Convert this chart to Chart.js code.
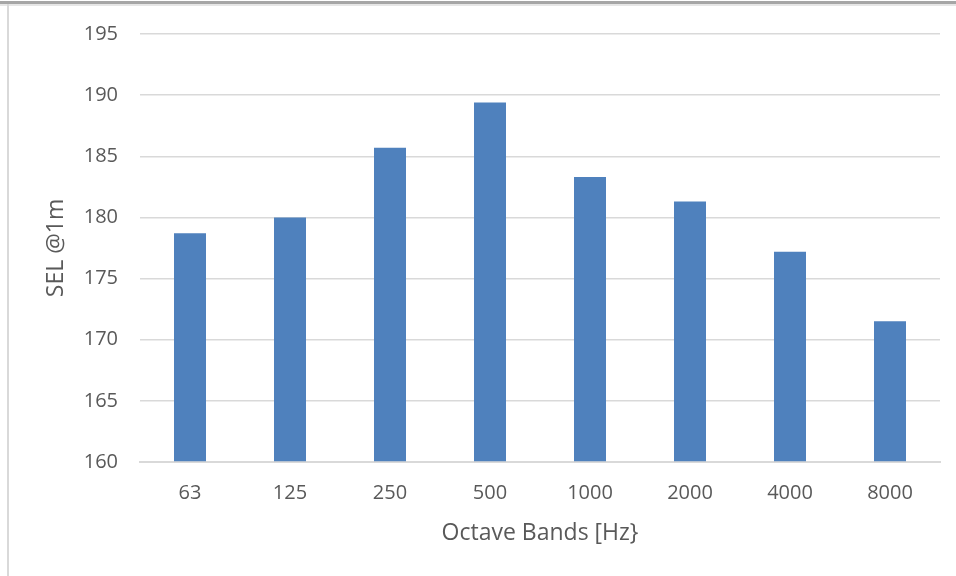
<!DOCTYPE html>
<html>
<head>
<meta charset="utf-8">
<script src="https://cdn.jsdelivr.net/npm/chart.js@4"></script>
<style>
  html, body { margin: 0; padding: 0; background: #fff; }
  #wrap { position: relative; width: 956px; height: 576px; overflow: hidden; }
  #frameTop { position: absolute; left: 0; top: 1px; width: 956px; height: 3px; background: #a6a6a6; }
  #frameTop2 { position: absolute; left: 0; top: 4px; width: 956px; height: 2px; background: #e6e6e6; }
  #frameLeft { position: absolute; left: 7px; top: 4px; width: 2px; height: 572px; background: #d9d9d9; }
  canvas { position: absolute; left: 0; top: 0; }
</style>
</head>
<body>
<div id="wrap">
  <canvas id="myChart" width="956" height="576"></canvas>
  <div id="frameTop"></div>
  <div id="frameTop2"></div>
  <div id="frameLeft"></div>
</div>
<script>
// octave band levels
const bands = ["63", "125", "250", "500", "1000", "2000", "4000", "8000"];
const sel = [178.7, 180.0, 185.7, 189.4, 183.3, 181.3, 177.2, 171.5];
const yMin = 160;
const yMax = 195;
const yStep = 5;

const textColor = "#595959";
const tickFont = { family: "'Open Sans', sans-serif", size: 20 };
const titleFont = { family: "'Open Sans', sans-serif", size: 23 };

const ctx = document.getElementById("myChart");
const myChart = new Chart(ctx, {
  type: "bar",
  data: {
    labels: bands,
    datasets: [
      {
        label: "SEL @1m",
        data: sel,
        backgroundColor: "#4f81bd",
        borderWidth: 0,
        barPercentage: 0.32,
        categoryPercentage: 1,
        base: yMin,
      },
    ],
  },
  options: {
    responsive: false,
    animation: false,
    layout: { padding: { left: 39, right: 16, top: 33, bottom: 0 } },
    plugins: { legend: { display: false }, tooltip: { enabled: false } },
    scales: {
      x: {
        grid: { display: false, drawTicks: false },
        border: { display: true, color: "#d9d9d9", width: 2 },
        ticks: { color: textColor, font: tickFont, padding: 19 },
        title: {
          display: true,
          text: "Octave Bands [Hz}",
          color: textColor,
          font: titleFont,
          padding: { top: 4, bottom: 29 },
        },
        afterFit: (scale) => { scale.height = 114; },
      },
      y: {
        min: yMin,
        max: yMax,
        grid: { color: "#d9d9d9", lineWidth: 1.5, drawTicks: false },
        border: { display: false },
        ticks: { stepSize: yStep, color: textColor, font: tickFont, padding: 22 },
        title: {
          display: true,
          text: "SEL @1m",
          color: textColor,
          font: titleFont,
          padding: { top: 4, bottom: 4 },
        },
        afterFit: (scale) => { scale.width = 101; },
      },
    },
  },
});
</script>
</body>
</html>
